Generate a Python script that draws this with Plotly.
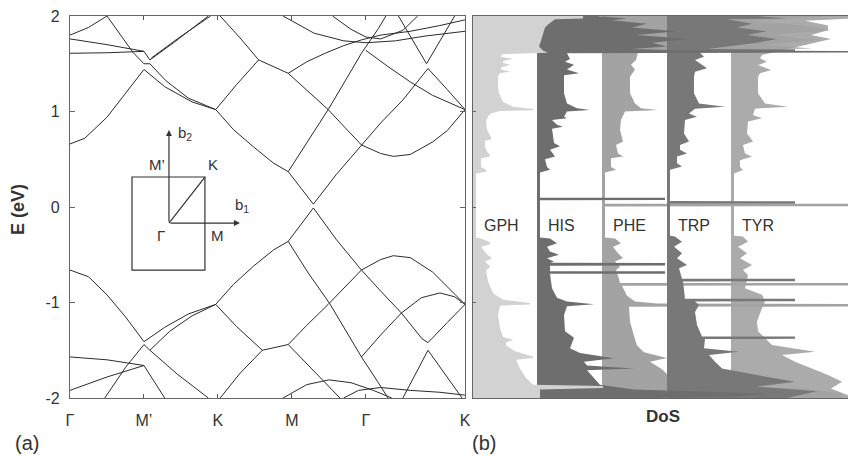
import plotly.graph_objects as go

# ---------------- band structure data (k along path, E in eV) ----------------
K_POS = [0, 1, 2, 3, 4, 5.34]
K_LABELS = ["Γ", "M’", "K", "M", "Γ", "K"]
E_TICKS = [-2, -1, 0, 1, 2]
E_LABELS = ["-2", "-1", "0", "1", "2"]

C1 = [(0, 0.66), (0.2, 0.72), (0.5, 0.94), (0.8, 1.24), (1.0, 1.44), (1.28, 1.26), (1.65, 1.10), (1.97, 1.02)]
C2 = [(0.5, 2.0), (0.7, 1.78), (0.85, 1.62), (1.0, 1.50), (1.08, 1.50), (1.3, 1.32), (1.6, 1.14), (1.97, 1.02)]
C3 = [(1.97, 1.02), (2.21, 0.81), (2.48, 0.63), (2.75, 0.46), (2.95, 0.37), (3.12, 0.2), (3.29, 0.03),
      (3.6, 0.34), (3.94, 0.65), (4.2, 0.88), (4.5, 1.12), (4.84, 1.45), (5.1, 1.23), (5.34, 1.02)]
C4 = [(2.95, 0.37), (3.22, 0.70), (3.49, 1.02), (3.72, 1.32), (3.94, 1.61), (4.17, 1.87), (4.27, 2.0)]
C5 = [(2.95, 1.40), (3.2, 1.22), (3.49, 1.02), (3.72, 0.83), (3.94, 0.65), (4.2, 0.56), (4.37, 0.53),
      (4.6, 0.55), (4.9, 0.68), (5.1, 0.80), (5.34, 1.02)]
C6 = [(1.97, 1.02), (2.25, 1.28), (2.55, 1.54), (2.75, 1.47), (2.95, 1.40)]
C7 = [(2.03, 2.0), (2.3, 1.77), (2.55, 1.54)]
C8 = [(2.95, 1.40), (3.2, 1.52), (3.45, 1.61), (3.7, 1.69), (3.94, 1.75), (4.2, 1.80), (4.6, 1.84), (5.0, 1.90), (5.34, 1.96)]
C9 = [(4.44, 2.0), (4.82, 1.50), (5.2, 2.0)]
C10 = [(4.0, 1.64), (4.3, 1.47), (4.6, 1.31), (4.9, 1.17), (5.34, 1.02)]
C11 = [(0, 1.61), (0.5, 1.615), (1.0, 1.63), (1.08, 1.54), (1.4, 1.72), (1.87, 2.0)]
C12 = [(1.1, 1.56), (1.45, 1.76), (1.9, 2.0)]
C13 = [(0, 1.76), (0.5, 1.70), (1.0, 1.63)]
C14 = [(0, 1.80), (0.25, 1.88), (0.5, 2.0)]
C15 = [(2.88, 2.0), (3.3, 1.82), (3.7, 1.74), (4.0, 1.72), (4.4, 1.74), (4.8, 1.79), (5.34, 1.84)]
C16 = [(3.55, 2.0), (3.8, 1.86), (4.0, 1.78), (4.2, 1.76), (4.5, 1.85), (4.7, 2.0)]

V1 = [(0, -0.66), (0.25, -0.73), (0.5, -0.92), (0.75, -1.15), (1.0, -1.41), (1.28, -1.26), (1.6, -1.12), (1.97, -1.02)]
V2 = [(0.47, -2.0), (0.75, -1.68), (1.0, -1.44), (1.08, -1.50), (1.35, -1.30), (1.65, -1.14), (1.97, -1.02)]
V3 = [(1.97, -1.02), (2.21, -0.81), (2.48, -0.62), (2.75, -0.45), (2.95, -0.36), (3.12, -0.18), (3.29, -0.01),
      (3.6, -0.34), (3.94, -0.66), (4.2, -0.88), (4.48, -1.11), (4.76, -1.38), (4.84, -1.42), (5.1, -1.21), (5.34, -1.02)]
V4 = [(2.95, -0.36), (3.22, -0.69), (3.51, -1.01), (3.72, -1.29), (3.94, -1.57), (4.16, -1.83), (4.30, -2.0)]
V5 = [(2.95, -1.44), (3.2, -1.24), (3.49, -1.02), (3.72, -0.84), (3.94, -0.66), (4.2, -0.55), (4.37, -0.51),
      (4.6, -0.53), (4.9, -0.68), (5.34, -1.02)]
V6 = [(1.97, -1.02), (2.25, -1.25), (2.6, -1.50), (2.78, -1.47), (2.95, -1.44)]
V7 = [(2.03, -2.0), (2.3, -1.74), (2.6, -1.50)]
V9 = [(2.95, -1.44), (3.2, -1.64), (3.45, -1.83), (3.65, -2.0)]
V10 = [(2.88, -2.0), (3.2, -1.86), (3.5, -1.81), (3.8, -1.84), (4.1, -1.92), (4.35, -2.0)]
V11 = [(3.7, -2.0), (3.9, -1.92), (4.2, -1.89), (4.6, -1.92), (5.0, -1.94), (5.34, -1.97)]
V12 = [(3.94, -1.57), (4.2, -1.34), (4.48, -1.11), (4.75, -0.95), (5.0, -0.90), (5.2, -0.94), (5.34, -1.02)]
V13 = [(4.5, -2.0), (4.84, -1.50), (5.3, -2.0)]
V14 = [(0, -1.57), (0.5, -1.60), (1.0, -1.66), (1.28, -2.0)]
V15 = [(0, -1.92), (0.5, -1.78), (1.0, -1.66)]
V16 = [(1.08, -1.50), (1.45, -1.75), (1.87, -2.0)]

BANDS = [C1, C2, C3, C4, C5, C6, C7, C8, C9, C10, C11, C12, C13, C14, C15, C16,
         V1, V2, V3, V4, V5, V6, V7, V9, V10, V11, V12, V13, V14, V15, V16]

# ---------------- DoS data: (E in eV, DoS in arbitrary units) ----------------
GPH = [(2.00, 110), (1.975, 110), (1.965, 82), (1.92, 76), (1.88, 72), (1.80, 70), (1.74, 68), (1.68, 66), (1.64, 70),
       (1.615, 75), (1.60, 30), (1.575, 27), (1.55, 40), (1.53, 30), (1.51, 30), (1.49, 37), (1.46, 28), (1.44, 28),
       (1.42, 37), (1.40, 27), (1.37, 25), (1.25, 25), (1.19, 26), (1.10, 30), (1.05, 40), (1.025, 60), (1.012, 60),
       (1.005, 27), (0.98, 18), (0.95, 15), (0.89, 13), (0.81, 14), (0.73, 18), (0.71, 18), (0.695, 12), (0.63, 12),
       (0.58, 14), (0.545, 17), (0.53, 17), (0.51, 8), (0.42, 8), (0.39, 13), (0.37, 13), (0.35, 3), (-0.32, 3),
       (-0.33, 8), (-0.37, 17), (-0.39, 17), (-0.415, 8), (-0.485, 13), (-0.53, 18), (-0.545, 18), (-0.57, 12),
       (-0.62, 17), (-0.63, 17), (-0.66, 13), (-0.78, 15), (-0.90, 20), (-0.97, 30), (-1.005, 57), (-1.02, 57),
       (-1.033, 27), (-1.13, 25), (-1.27, 27), (-1.36, 30), (-1.39, 40), (-1.42, 33), (-1.45, 33), (-1.51, 42),
       (-1.565, 60), (-1.58, 60), (-1.60, 43), (-1.69, 47), (-1.79, 53), (-1.86, 60), (-1.875, 130), (-1.895, 130),
       (-1.91, 67), (-2.00, 67)]
HIS = [(2.00, 60), (1.975, 90), (1.955, 75), (1.92, 110), (1.88, 95), (1.84, 140), (1.80, 100), (1.76, 150),
       (1.72, 115), (1.68, 130), (1.655, 95), (1.64, 150), (1.632, 320), (1.618, 320), (1.61, 30), (1.55, 33),
       (1.52, 28), (1.49, 37), (1.44, 30), (1.40, 42), (1.38, 27), (1.19, 27), (1.085, 30), (1.035, 40), (1.016, 53),
       (1.0, 30), (0.946, 27), (0.93, 30), (0.91, 15), (0.86, 20), (0.84, 26), (0.82, 15), (0.67, 17), (0.635, 23),
       (0.60, 13), (0.53, 18), (0.50, 8), (0.42, 10), (0.39, 13), (0.36, 3), (0.098, 3), (0.097, 128), (0.072, 128),
       (0.07, 3), (-0.32, 3), (-0.33, 13), (-0.38, 20), (-0.415, 10), (-0.467, 13), (-0.50, 22), (-0.537, 10),
       (-0.572, 17), (-0.585, 13), (-0.587, 128), (-0.612, 128), (-0.614, 13), (-0.672, 13), (-0.674, 128),
       (-0.698, 128), (-0.70, 13), (-0.85, 15), (-0.95, 20), (-0.99, 30), (-1.018, 57), (-1.04, 30), (-1.13, 27),
       (-1.30, 28), (-1.37, 37), (-1.48, 33), (-1.53, 43), (-1.585, 77), (-1.62, 47), (-1.66, 50), (-1.69, 97),
       (-1.71, 50), (-1.79, 57), (-1.86, 63), (-1.91, 97), (-1.93, 150), (-1.955, 230), (-1.985, 200), (-2.00, 120)]
PHE = [(2.00, 230), (1.95, 150), (1.90, 200), (1.85, 228), (1.80, 170), (1.75, 215), (1.70, 160), (1.66, 210),
       (1.64, 100), (1.62, 36), (1.54, 34), (1.49, 29), (1.44, 33), (1.365, 28), (1.19, 28), (1.085, 33), (1.033, 39),
       (1.016, 56), (1.0, 23), (0.91, 19), (0.81, 18), (0.685, 21), (0.65, 14), (0.56, 16), (0.528, 21), (0.51, 9),
       (0.42, 9), (0.39, 14), (0.36, 3), (0.035, 3), (0.033, 250), (0.008, 250), (0.006, 3), (-0.32, 3), (-0.33, 13),
       (-0.38, 19), (-0.42, 11), (-0.485, 16), (-0.535, 21), (-0.57, 13), (-0.625, 18), (-0.66, 14), (-0.75, 17),
       (-0.795, 18), (-0.797, 250), (-0.822, 250), (-0.824, 20), (-0.93, 25), (-0.99, 33), (-1.01, 55),
       (-1.017, 250), (-1.042, 250), (-1.045, 27), (-1.2, 28), (-1.35, 32), (-1.45, 35), (-1.52, 42), (-1.58, 65),
       (-1.62, 48), (-1.70, 60), (-1.80, 70), (-1.87, 90), (-1.90, 200), (-1.95, 240), (-2.00, 240)]
TRP = [(2.00, 90), (1.975, 120), (1.965, 60), (1.92, 85), (1.88, 70), (1.84, 100), (1.80, 80), (1.76, 110),
       (1.72, 90), (1.68, 60), (1.655, 40), (1.652, 128), (1.628, 128), (1.625, 32), (1.574, 37), (1.54, 28),
       (1.50, 33), (1.452, 40), (1.417, 28), (1.365, 27), (1.19, 27), (1.085, 32), (1.05, 58), (1.03, 28),
       (0.98, 22), (0.946, 30), (0.91, 18), (0.77, 17), (0.685, 22), (0.65, 13), (0.60, 13), (0.56, 20),
       (0.528, 10), (0.457, 10), (0.423, 15), (0.39, 3), (0.062, 3), (0.06, 128), (0.035, 128), (0.033, 3),
       (-0.30, 3), (-0.31, 8), (-0.363, 15), (-0.415, 7), (-0.485, 15), (-0.537, 10), (-0.607, 20), (-0.642, 12),
       (-0.75, 15), (-0.752, 128), (-0.777, 128), (-0.78, 16), (-0.96, 18), (-0.962, 128), (-0.987, 128),
       (-0.99, 28), (-1.026, 32), (-1.10, 28), (-1.236, 30), (-1.34, 35), (-1.355, 35), (-1.357, 128),
       (-1.38, 128), (-1.383, 38), (-1.48, 37), (-1.515, 72), (-1.55, 42), (-1.62, 48), (-1.69, 55), (-1.76, 90),
       (-1.83, 128), (-1.88, 90), (-1.93, 150), (-2.00, 120)]
TYR = [(2.00, 117), (1.97, 117), (1.95, 74), (1.90, 97), (1.85, 97), (1.80, 80), (1.76, 100), (1.70, 75),
       (1.66, 60), (1.62, 40), (1.592, 31), (1.557, 29), (1.52, 36), (1.487, 27), (1.435, 40), (1.40, 29),
       (1.365, 27), (1.19, 27), (1.085, 34), (1.05, 57), (1.03, 24), (0.963, 22), (0.93, 31), (0.894, 17),
       (0.77, 16), (0.685, 22), (0.65, 12), (0.56, 14), (0.528, 21), (0.49, 9), (0.42, 9), (0.388, 12),
       (0.352, 3), (-0.30, 3), (-0.31, 12), (-0.363, 17), (-0.415, 7), (-0.485, 16), (-0.537, 9), (-0.607, 21),
       (-0.66, 12), (-0.712, 17), (-0.85, 14), (-0.92, 31), (-0.99, 34), (-1.06, 31), (-1.2, 26), (-1.30, 27),
       (-1.37, 34), (-1.445, 41), (-1.515, 84), (-1.55, 51), (-1.62, 64), (-1.69, 81), (-1.76, 97), (-1.83, 111),
       (-1.90, 100), (-1.97, 117), (-2.00, 117)]

DOS_NAMES = ["GPH", "HIS", "PHE", "TRP", "TYR"]
DOS_SERIES = {"GPH": GPH, "HIS": HIS, "PHE": PHE, "TRP": TRP, "TYR": TYR}
DOS_OFFSET = {"GPH": 0, "HIS": 64, "PHE": 129, "TRP": 194, "TYR": 258}
DOS_COLOR = {"GPH": "#d2d2d2", "HIS": "#6e6e6e", "PHE": "#a3a3a3", "TRP": "#787878", "TYR": "#ababab"}
DRAW_ORDER = ["TYR", "PHE", "TRP", "HIS", "GPH"]

FONT = "Liberation Sans, Arial, sans-serif"
TXT = "#333333"
W, H = 848, 456

fig = go.Figure()

for band in BANDS:
    fig.add_trace(go.Scatter(x=[p[0] for p in band], y=[p[1] for p in band], mode="lines",
                             line=dict(color="#2b2b2b", width=1), xaxis="x", yaxis="y",
                             hoverinfo="skip", showlegend=False))

for name in DRAW_ORDER:
    data = DOS_SERIES[name]
    off = DOS_OFFSET[name]
    xs = [off + v for (_, v) in data] + [off, off]
    ys = [e for (e, _) in data] + [data[-1][0], data[0][0]]
    fig.add_trace(go.Scatter(x=xs, y=ys, mode="lines", fill="toself", fillcolor=DOS_COLOR[name],
                             line=dict(width=0, color=DOS_COLOR[name]), xaxis="x2", yaxis="y2",
                             hoverinfo="skip", showlegend=False))

y_dom = [58 / H, 440 / H]
fig.update_layout(
    width=W, height=H, margin=dict(l=0, r=0, t=0, b=0, autoexpand=False),
    paper_bgcolor="white", plot_bgcolor="white",
    font=dict(family=FONT, color=TXT, size=16),
    xaxis=dict(domain=[70 / W, 465 / W], range=[0, 5.34], tickvals=K_POS, ticktext=K_LABELS,
               ticks="inside", ticklen=4, tickcolor="#555", showline=True, linecolor="#666", linewidth=1.3,
               mirror="ticks", showgrid=False, zeroline=False, tickfont=dict(size=16, color=TXT),
               ticklabelstandoff=8, automargin=False),
    yaxis=dict(domain=y_dom, range=[-2, 2], tickvals=E_TICKS, ticktext=E_LABELS, ticks="inside", ticklen=5,
               tickcolor="#666", showline=True, linecolor="#666", linewidth=1.3, mirror="ticks",
               showgrid=False, zeroline=False, tickfont=dict(size=16, color=TXT), ticklabelstandoff=6,
               automargin=False),
    xaxis2=dict(domain=[473 / W, 1.0], range=[0, 375], showticklabels=False, ticks="", showline=True,
                linecolor="#666", linewidth=1.3, mirror=True, showgrid=False, zeroline=False, anchor="y2",
                automargin=False),
    yaxis2=dict(domain=y_dom, range=[-2, 2], tickvals=E_TICKS, showticklabels=False, ticks="inside",
                ticklen=3, tickcolor="#666", showline=True, linecolor="#666", linewidth=1.3, mirror=True,
                showgrid=False, zeroline=False, anchor="x2", automargin=False),
)

# Brillouin-zone inset (in band-plot data coordinates)
GX, GY = 1.338, -0.168
fig.add_shape(type="rect", x0=0.838, x1=1.824, y0=-0.66, y1=0.314, xref="x", yref="y",
              line=dict(color="#333", width=1.2))
fig.add_shape(type="line", x0=GX, y0=GY, x1=1.824, y1=0.314, xref="x", yref="y",
              line=dict(color="#333", width=1.2))
fig.add_annotation(x=GX, y=0.806, ax=GX, ay=GY, xref="x", yref="y", axref="x", ayref="y", text="",
                   showarrow=True, arrowhead=2, arrowsize=1, arrowwidth=1.2, arrowcolor="#333")
fig.add_annotation(x=2.297, y=GY, ax=GX, ay=GY, xref="x", yref="y", axref="x", ayref="y", text="",
                   showarrow=True, arrowhead=2, arrowsize=1, arrowwidth=1.2, arrowcolor="#333")
inset_labels = [("M’", 1.18, 0.44), ("K", 1.93, 0.44), ("b<sub>2</sub>", 1.56, 0.77),
                ("b<sub>1</sub>", 2.33, 0.02), ("Γ", 1.23, -0.30), ("M", 2.0, -0.30)]
for t, x, y in inset_labels:
    fig.add_annotation(x=x, y=y, xref="x", yref="y", text=t, showarrow=False, xanchor="center",
                       yanchor="middle", font=dict(size=15, color=TXT, family=FONT))

# DoS labels
for name in DOS_NAMES:
    fig.add_annotation(x=DOS_OFFSET[name] + 9, y=-0.19, xref="x2", yref="y2", text=name, showarrow=False,
                       xanchor="left", yanchor="middle", font=dict(size=16, color=TXT, family=FONT))

# titles and panel labels
fig.add_annotation(x=18 / W, y=1 - 210 / H, xref="paper", yref="paper", text="<b>E (eV)</b>", textangle=-90,
                   showarrow=False, xanchor="center", yanchor="middle", font=dict(size=18, color=TXT, family=FONT))
fig.add_annotation(x=663 / W, y=1 - 416 / H, xref="paper", yref="paper", text="<b>DoS</b>",
                   showarrow=False, xanchor="center", yanchor="middle", font=dict(size=17, color=TXT, family=FONT))
fig.add_annotation(x=27 / W, y=1 - 443 / H, xref="paper", yref="paper", text="(a)",
                   showarrow=False, xanchor="center", yanchor="middle", font=dict(size=20, color=TXT, family=FONT))
fig.add_annotation(x=484 / W, y=1 - 443 / H, xref="paper", yref="paper", text="(b)",
                   showarrow=False, xanchor="center", yanchor="middle", font=dict(size=20, color=TXT, family=FONT))

fig.write_html("out.html")
